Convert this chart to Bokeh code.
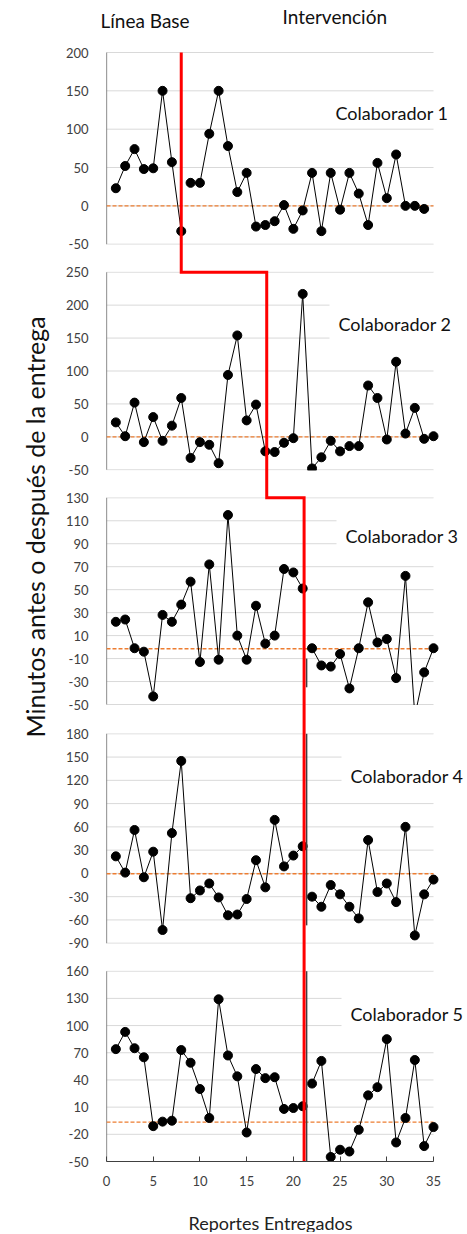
import json
import math
from bokeh.plotting import figure
from bokeh.layouts import column, row
from bokeh.models import Range1d, FixedTicker, Label, CustomJSTickFormatter
from bokeh.embed import file_html
from bokeh.resources import INLINE

# ---------------- data ----------------
reportes = list(range(1, 36))

colaborador_1 = [23, 52, 74, 48, 49, 150, 57, -33, 30, 30, 94, 150, 78, 18, 43, -27, -25, -20,
                 1, -30, -6, 43, -33, 43, -5, 43, 16, -25, 56, 10, 67, 0, 0, -4]
colaborador_2 = [22, 1, 52, -8, 30, -6, 17, 59, -32, -8, -12, -40, 94, 154, 25, 49, -22, -23,
                 -9, -2, 217, -48, -31, -6, -22, -14, -14, 78, 59, -4, 114, 5, 44, -3, 1]
colaborador_3 = [22, 24, -1, -4, -43, 28, 22, 37, 57, -13, 72, -11, 115, 10, -11, 36, 3, 10,
                 68, 65, 51, -1, -16, -17, -6, -36, -1, 39, 4, 7, -27, 62, -60, -22, -1]
colaborador_4 = [22, 1, 56, -5, 28, -73, 52, 145, -32, -22, -13, -31, -54, -53, -33, 17, -18, 69,
                 9, 23, 35, -30, -43, -15, -27, -43, -58, 43, -24, -13, -37, 60, -80, -27, -8]
colaborador_5 = [74, 93, 75, 65, -11, -6, -5, 73, 59, 30, -2, 129, 67, 44, -18, 52, 42, 43,
                 8, 9, 11, 36, 61, -45, -37, -39, -15, 23, 32, 85, -29, -2, 62, -33, -12]

series = [colaborador_1, colaborador_2, colaborador_3, colaborador_4, colaborador_5]
nombres = ["Colaborador 1", "Colaborador 2", "Colaborador 3", "Colaborador 4", "Colaborador 5"]
ultimo_base = [8, 17, 21, 21, 21]                  # last report of the baseline phase
cambio_fase = [8.0, 17.15, 21.15, 21.15, 21.15]    # x of the phase-change line
y_min = [-50, -50, -50, -90, -50]
y_max = [200, 250, 130, 180, 160]
y_paso = [50, 50, 20, 30, 30]
linea_ref = [0, 0, -1.5, -0.5, -6.5]               # dashed reference line
x_ticks = [0, 5, 10, 15, 20, 25, 30, 35]

# ---------------- layout (page pixels) ----------------
W, H = 465, 1232
HEAD_H = 44
FOOT_TOP = 1198
LEFT_W = 50
FRAME_L, FRAME_R0 = 106.0, 433.0        # x = 0 and x = 35
PAGE_TOP, PAGE_BOTTOM = float(HEAD_H), 1161.0
panel_top = [52.0, 271.7, 497.3, 733.3, 970.7]
panel_bot = [243.7, 469.3, 704.0, 942.7, 1161.0]
X0, X1 = 0, 35
SCALE = (FRAME_R0 - FRAME_L) / (X1 - X0)
X_END = X0 + (W - FRAME_L) / SCALE
PAD = 9

def px_to_x(px):
    return X0 + (px - FRAME_L) / SCALE

def k_of(i):
    return (y_max[i] - y_min[i]) / (panel_bot[i] - panel_top[i])

def to_page(i, v):
    return panel_top[i] + (y_max[i] - v) / k_of(i)

def page_to_val(i, py):
    return y_max[i] - (py - panel_top[i]) * k_of(i)

FONT = "Lato"

def blank(width, height, y0, y1):
    f = figure(width=width, height=height, x_range=Range1d(0, width), y_range=Range1d(y1, y0),
               x_axis_type=None, y_axis_type=None, output_backend="svg",
               toolbar_location=None, min_border=0)
    f.outline_line_color = None
    f.grid.grid_line_color = None
    return f

# ---------------- header (phase names) ----------------
head = blank(W, HEAD_H, 0, HEAD_H)
head.add_layout(Label(x=100, y=19.5, text="Línea Base", text_font=FONT, text_font_size="19px",
                      text_color="#111111", text_align="left", text_baseline="middle"))
head.add_layout(Label(x=282, y=16, text="Intervención", text_font=FONT, text_font_size="19px",
                      text_color="#111111", text_align="left", text_baseline="middle"))

# ---------------- y title ----------------
side = blank(LEFT_W, FOOT_TOP - HEAD_H, HEAD_H, FOOT_TOP)
side.add_layout(Label(x=34, y=760, text="Minutos antes o después de la entrega",
                      angle=math.pi / 2, text_font=FONT, text_font_size="25px",
                      text_color="#111111", text_align="left", text_baseline="middle"))

# ---------------- x title ----------------
foot = blank(W, H - FOOT_TOP, FOOT_TOP, H)
foot.add_layout(Label(x=270, y=1222, text="Reportes Entregados", text_font=FONT,
                      text_font_size="18px", text_color="#222222",
                      text_align="center", text_baseline="middle"))

# ---------------- main chart ----------------
p = figure(width=W - LEFT_W, height=FOOT_TOP - HEAD_H, x_range=Range1d(X0, X_END),
           y_range=Range1d(PAGE_BOTTOM, PAGE_TOP),
           output_backend="svg", toolbar_location=None,
           min_border_left=int(FRAME_L - LEFT_W), min_border_right=0, min_border_top=0,
           min_border_bottom=int(FOOT_TOP - PAGE_BOTTOM))
p.outline_line_color = None
p.background_fill_color = "white"
p.border_fill_color = "white"

extra = {}
for i in range(5):
    k = k_of(i)
    start = y_min[i] - (PAGE_BOTTOM - panel_bot[i]) * k
    end = y_max[i] + (panel_top[i] - PAGE_TOP) * k
    extra["p%d" % i] = Range1d(start, end)
p.extra_y_ranges = extra

# y ticks of every panel on one axis
pos, lab = [], []
for i in range(5):
    v = y_min[i]
    while v <= y_max[i]:
        pos.append(round(to_page(i, v), 3))
        lab.append(str(v))
        v += y_paso[i]

p.yaxis.ticker = FixedTicker(ticks=pos)
p.yaxis.formatter = CustomJSTickFormatter(code="""
const pos = %s; const lab = %s;
for (let i = 0; i < pos.length; i++) { if (Math.abs(pos[i] - tick) < 0.01) return lab[i]; }
return "";
""" % (json.dumps(pos), json.dumps(lab)))
p.yaxis.axis_line_color = None
p.yaxis.major_tick_line_color = None
p.yaxis.minor_tick_line_color = None
p.yaxis.major_label_standoff = 12
p.yaxis.major_label_text_font = FONT
p.yaxis.major_label_text_font_size = "13px"
p.yaxis.major_label_text_color = "#404040"
p.grid.grid_line_color = None

p.xaxis.ticker = FixedTicker(ticks=x_ticks)
p.xaxis.bounds = (X0, X1)
p.xaxis.axis_line_color = "#404040"
p.xaxis.major_tick_in = 5
p.xaxis.major_tick_out = 0
p.xaxis.major_tick_line_color = "#404040"
p.xaxis.minor_tick_line_color = None
p.xaxis.major_label_standoff = 14
p.xaxis.major_label_text_font = FONT
p.xaxis.major_label_text_font_size = "13px"
p.xaxis.major_label_text_color = "#404040"

for i in range(5):
    rn = "p%d" % i
    ys = series[i]
    xs = reportes[:len(ys)]
    n = ultimo_base[i]
    # horizontal gridlines of the panel
    gv = list(range(y_min[i], y_max[i] + 1, y_paso[i]))
    p.segment(x0=[X0] * len(gv), y0=gv, x1=[X1] * len(gv), y1=gv, y_range_name=rn,
              line_color="#d9d9d9", line_width=1)
    # left axis line of the panel
    p.segment(x0=X0, y0=y_min[i], x1=X0, y1=y_max[i], y_range_name=rn,
              line_color="#404040", line_width=1.2)
    # dashed reference line
    p.line(x=[X0, X1], y=[linea_ref[i], linea_ref[i]], y_range_name=rn,
           line_color="#ED7D31", line_width=1.4, line_dash="4 2")
    # baseline and intervention phases
    p.line(x=xs[:n], y=ys[:n], y_range_name=rn, line_color="black", line_width=1)
    p.line(x=xs[n:], y=ys[n:], y_range_name=rn, line_color="black", line_width=1)
    p.scatter(x=xs, y=ys, y_range_name=rn, size=9, fill_color="black", line_color="black")

# white masks over the gaps between panels (values beyond a panel are cut)
for i in range(4):
    p.quad(left=X0, right=X1, top=panel_bot[i] + 0.6, bottom=panel_top[i + 1] - 0.6,
           fill_color="white", line_color=None)

# thin dark phase-line residue beside the red line (panels 3, 4 and 5)
p.segment(x0=cambio_fase[2] + 0.27, y0=-10, x1=cambio_fase[2] + 0.27, y1=-35,
          y_range_name="p2", line_color="#404040", line_width=1.5)
p.segment(x0=cambio_fase[3] + 0.27, y0=y_max[3], x1=cambio_fase[3] + 0.27, y1=-67,
          y_range_name="p3", line_color="#404040", line_width=1.5)
p.segment(x0=cambio_fase[4] + 0.27, y0=y_max[4], x1=cambio_fase[4] + 0.27, y1=y_min[4],
          y_range_name="p4", line_color="#404040", line_width=1.5)

# red multiple-baseline phase-change line
rx = [cambio_fase[0], cambio_fase[0], cambio_fase[1], cambio_fase[1], cambio_fase[2], cambio_fase[4]]
ry = [panel_top[0], panel_top[1], panel_top[1], panel_top[2], panel_top[2], panel_bot[4]]
p.line(x=rx, y=ry, line_color="#FF0000", line_width=3, line_join="miter")

# panel names
lab_left = [335, 338, 345, 350, 350]
lab_cy = [112, 323, 535, 775, 1013]
for i in range(5):
    kw = {}
    shift = 0
    if i > 0:
        kw = dict(background_fill_color="white", padding=PAD)
        shift = PAD
    p.add_layout(Label(x=px_to_x(lab_left[i] - shift), y=page_to_val(i, lab_cy[i]),
                       y_range_name="p%d" % i,
                       text=nombres[i], text_font=FONT, text_font_size="18px",
                       text_color="#111111", text_align="left", text_baseline="middle", **kw))

layout = column(head, row(side, p), foot)
open("out.html", "w").write(file_html(layout, INLINE))
